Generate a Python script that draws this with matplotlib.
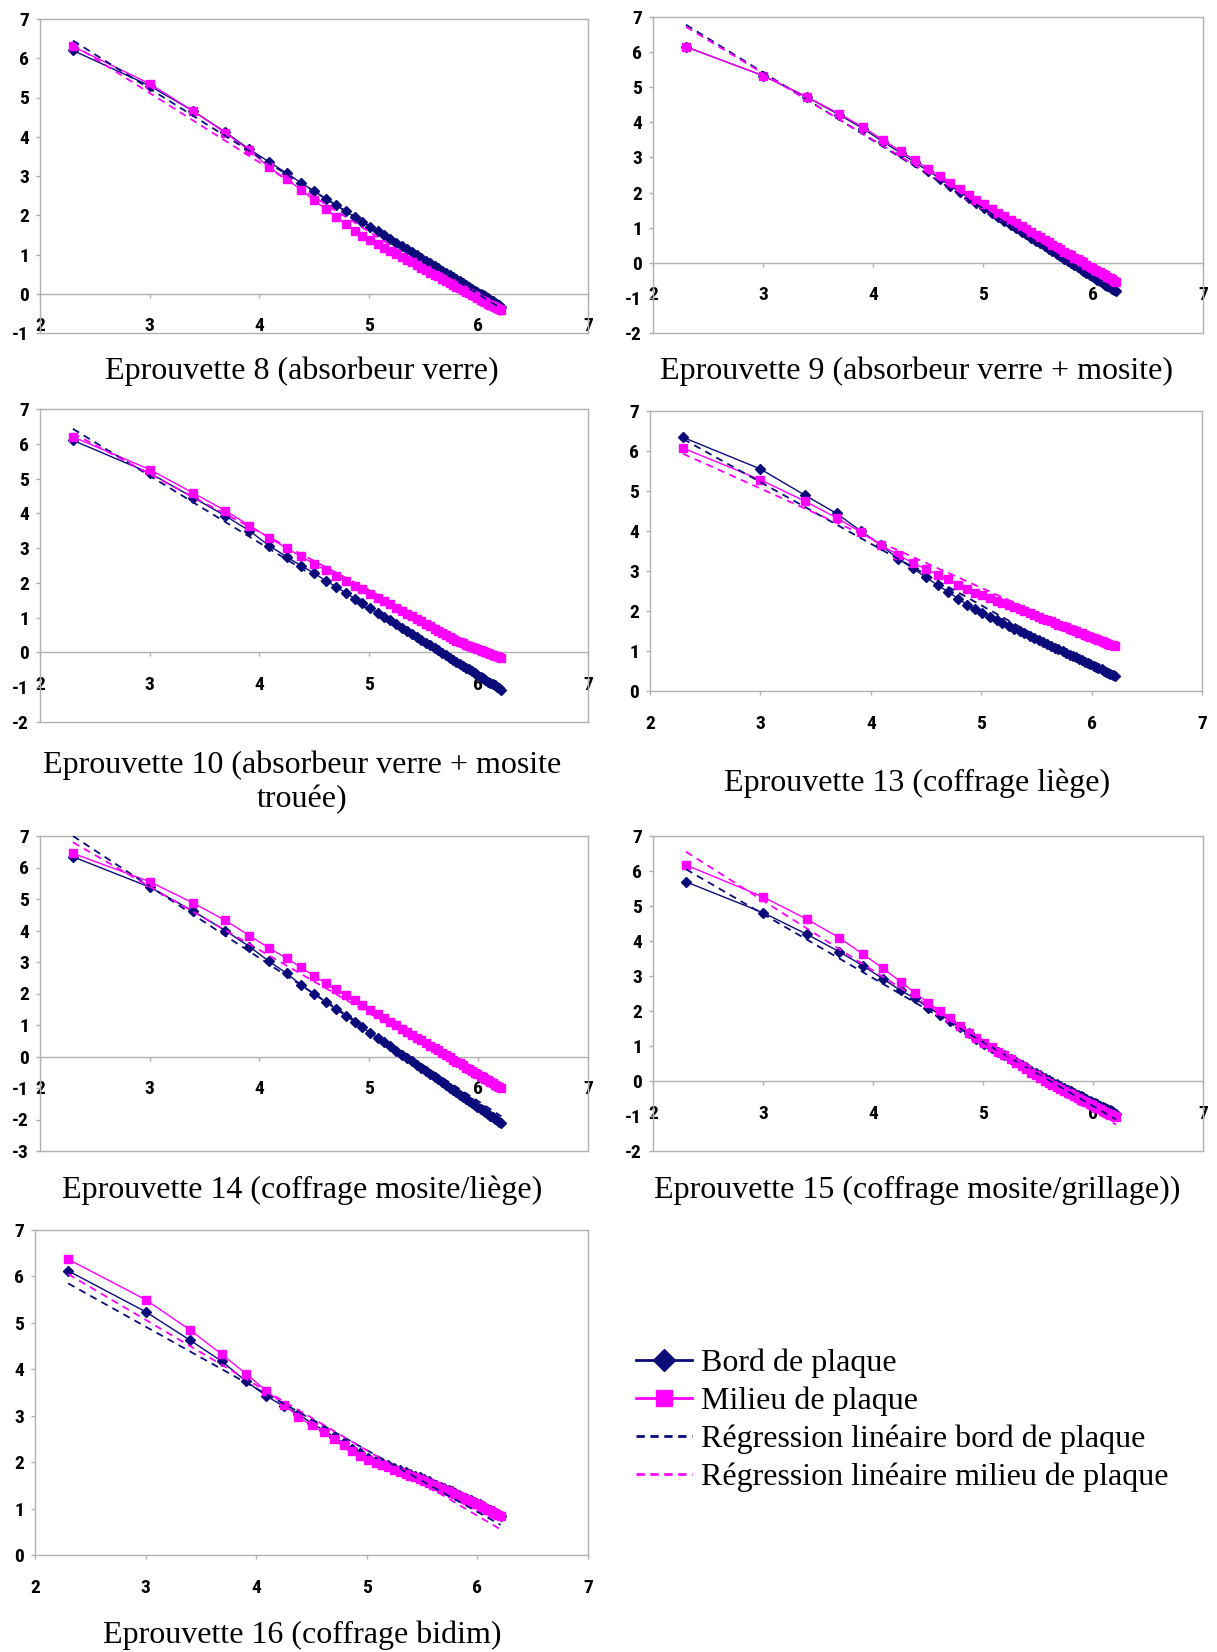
import os
import matplotlib
matplotlib.use('Agg')
import matplotlib.pyplot as plt
from matplotlib.lines import Line2D
from matplotlib import font_manager
from matplotlib.font_manager import FontProperties

plt.rcParams['axes.unicode_minus'] = False

# ---------------- data ----------------
x_vals = [2.30, 3.00, 3.40, 3.69, 3.91, 4.09, 4.25, 4.38, 4.50, 4.61, 4.70, 4.79, 4.87, 4.94, 5.01,
          5.08, 5.14, 5.19, 5.25, 5.30, 5.35, 5.39, 5.44, 5.48, 5.52, 5.56, 5.60, 5.63, 5.67, 5.70,
          5.74, 5.77, 5.80, 5.83, 5.86, 5.89, 5.91, 5.94, 5.97, 5.99, 6.02, 6.04, 6.06, 6.09, 6.11,
          6.13, 6.15, 6.17, 6.19, 6.21]
reg_x = [2.30, 6.21]

ep8_bord = [6.20, 5.30, 4.65, 4.12, 3.68, 3.36, 3.07, 2.83, 2.62, 2.42, 2.26, 2.10, 1.95, 1.83, 1.71,
            1.59, 1.49, 1.40, 1.30, 1.22, 1.13, 1.07, 0.98, 0.91, 0.84, 0.78, 0.71, 0.66, 0.59, 0.54,
            0.47, 0.42, 0.37, 0.32, 0.27, 0.22, 0.18, 0.13, 0.08, 0.05, 0.00, -0.04, -0.07, -0.12, -0.16,
            -0.19, -0.23, -0.26, -0.29, -0.33]
ep8_milieu = [6.30, 5.35, 4.65, 4.10, 3.65, 3.22, 2.92, 2.65, 2.38, 2.15, 1.96, 1.77, 1.60, 1.47, 1.37,
              1.26, 1.17, 1.10, 1.01, 0.93, 0.86, 0.80, 0.72, 0.66, 0.60, 0.54, 0.48, 0.44, 0.38, 0.33,
              0.27, 0.23, 0.18, 0.14, 0.09, 0.05, 0.02, -0.03, -0.07, -0.10, -0.15, -0.18, -0.21, -0.25, -0.28,
              -0.31, -0.34, -0.37, -0.39, -0.42]
ep8_reg_bord = [6.45, -0.38]
ep8_reg_milieu = [6.35, -0.55]

ep9_bord = [6.15, 5.33, 4.72, 4.22, 3.82, 3.45, 3.13, 2.86, 2.62, 2.40, 2.20, 2.02, 1.85, 1.70, 1.56,
            1.42, 1.30, 1.20, 1.09, 0.99, 0.89, 0.81, 0.71, 0.63, 0.55, 0.47, 0.39, 0.33, 0.25, 0.20,
            0.12, 0.06, 0.00, -0.06, -0.12, -0.18, -0.22, -0.28, -0.34, -0.38, -0.44, -0.48, -0.52, -0.58, -0.62,
            -0.66, -0.70, -0.74, -0.78, -0.81]
ep9_milieu = [6.15, 5.33, 4.72, 4.25, 3.86, 3.50, 3.18, 2.92, 2.68, 2.47, 2.28, 2.10, 1.94, 1.80, 1.67,
              1.54, 1.43, 1.34, 1.23, 1.13, 1.04, 0.97, 0.88, 0.80, 0.73, 0.65, 0.58, 0.52, 0.45, 0.39,
              0.32, 0.26, 0.21, 0.15, 0.10, 0.04, 0.01, -0.05, -0.11, -0.14, -0.20, -0.24, -0.27, -0.33, -0.36,
              -0.40, -0.44, -0.47, -0.51, -0.55]
ep9_reg_bord = [6.78, -0.80]
ep9_reg_milieu = [6.72, -0.68]

ep10_bord = [6.10, 5.16, 4.45, 3.93, 3.50, 3.07, 2.75, 2.50, 2.28, 2.06, 1.89, 1.71, 1.55, 1.42, 1.28,
             1.14, 1.03, 0.93, 0.81, 0.71, 0.61, 0.54, 0.44, 0.36, 0.28, 0.20, 0.12, 0.07, -0.01, -0.07,
             -0.15, -0.21, -0.27, -0.33, -0.39, -0.44, -0.48, -0.54, -0.60, -0.64, -0.70, -0.74, -0.78, -0.84, -0.88,
             -0.91, -0.95, -0.99, -1.03, -1.07]
ep10_milieu = [6.20, 5.26, 4.58, 4.08, 3.65, 3.30, 3.00, 2.76, 2.55, 2.36, 2.21, 2.06, 1.92, 1.81, 1.69,
               1.57, 1.47, 1.38, 1.28, 1.19, 1.11, 1.04, 0.95, 0.89, 0.82, 0.75, 0.68, 0.63, 0.56, 0.51,
               0.44, 0.39, 0.34, 0.30, 0.26, 0.22, 0.19, 0.16, 0.12, 0.10, 0.06, 0.04, 0.01, -0.02, -0.04,
               -0.07, -0.09, -0.11, -0.13, -0.15]
ep10_reg_bord = [6.43, -1.10]
ep10_reg_milieu = [6.30, -0.22]

ep13_bord = [6.34, 5.55, 4.90, 4.44, 4.00, 3.65, 3.30, 3.07, 2.84, 2.64, 2.48, 2.31, 2.16, 2.05, 1.94,
             1.85, 1.77, 1.71, 1.63, 1.56, 1.50, 1.45, 1.38, 1.33, 1.28, 1.23, 1.17, 1.13, 1.08, 1.04,
             0.99, 0.95, 0.91, 0.87, 0.84, 0.80, 0.77, 0.73, 0.69, 0.67, 0.63, 0.60, 0.58, 0.54, 0.51,
             0.48, 0.46, 0.43, 0.41, 0.38]
ep13_milieu = [6.07, 5.28, 4.75, 4.33, 3.97, 3.65, 3.40, 3.20, 3.05, 2.90, 2.79, 2.65, 2.56, 2.46, 2.40,
               2.33, 2.26, 2.21, 2.14, 2.09, 2.04, 1.99, 1.94, 1.90, 1.85, 1.81, 1.77, 1.74, 1.69, 1.66,
               1.62, 1.59, 1.55, 1.52, 1.49, 1.46, 1.44, 1.40, 1.37, 1.35, 1.32, 1.30, 1.28, 1.24, 1.22,
               1.20, 1.18, 1.16, 1.14, 1.12]
ep13_reg_bord = [6.30, 0.28]
ep13_reg_milieu = [5.93, 1.08]

ep14_bord = [6.34, 5.38, 4.61, 4.00, 3.49, 3.02, 2.64, 2.28, 1.98, 1.72, 1.50, 1.29, 1.10, 0.93, 0.76,
             0.59, 0.45, 0.33, 0.18, 0.06, -0.06, -0.15, -0.27, -0.37, -0.46, -0.56, -0.66, -0.73, -0.82, -0.90,
             -0.99, -1.06, -1.14, -1.21, -1.28, -1.35, -1.40, -1.47, -1.54, -1.59, -1.66, -1.71, -1.76, -1.83, -1.88,
             -1.93, -1.98, -2.02, -2.07, -2.12]
ep14_milieu = [6.45, 5.55, 4.87, 4.32, 3.84, 3.44, 3.12, 2.83, 2.56, 2.32, 2.13, 1.94, 1.78, 1.63, 1.49,
               1.34, 1.21, 1.11, 0.99, 0.88, 0.78, 0.69, 0.59, 0.51, 0.42, 0.34, 0.26, 0.20, 0.11, 0.05,
               -0.03, -0.10, -0.16, -0.22, -0.28, -0.35, -0.39, -0.45, -0.51, -0.55, -0.62, -0.66, -0.70, -0.76, -0.80,
               -0.84, -0.89, -0.93, -0.97, -1.01]
ep14_reg_bord = [7.00, -1.90]
ep14_reg_milieu = [6.80, -1.05]

ep15_bord = [5.69, 4.81, 4.19, 3.70, 3.29, 2.92, 2.59, 2.36, 2.10, 1.90, 1.72, 1.53, 1.36, 1.21, 1.07,
             0.95, 0.84, 0.75, 0.64, 0.55, 0.46, 0.39, 0.30, 0.23, 0.16, 0.09, 0.02, -0.03, -0.09, -0.14,
             -0.20, -0.25, -0.29, -0.34, -0.39, -0.43, -0.46, -0.51, -0.56, -0.59, -0.64, -0.67, -0.70, -0.74, -0.78,
             -0.81, -0.84, -0.87, -0.90, -0.93]
ep15_milieu = [6.17, 5.26, 4.62, 4.10, 3.62, 3.22, 2.84, 2.52, 2.24, 2.00, 1.79, 1.57, 1.38, 1.24, 1.10,
               0.96, 0.84, 0.74, 0.62, 0.52, 0.42, 0.34, 0.24, 0.16, 0.08, 0.00, -0.06, -0.11, -0.18, -0.22,
               -0.29, -0.34, -0.38, -0.43, -0.48, -0.53, -0.56, -0.61, -0.66, -0.69, -0.74, -0.77, -0.80, -0.85, -0.88,
               -0.91, -0.94, -0.98, -1.01, -1.04]
ep15_reg_bord = [6.05, -1.10]
ep15_reg_milieu = [6.55, -1.25]

ep16_bord = [6.12, 5.24, 4.63, 4.17, 3.74, 3.43, 3.20, 3.04, 2.84, 2.69, 2.55, 2.41, 2.29, 2.19, 2.10,
             2.03, 1.98, 1.93, 1.88, 1.83, 1.79, 1.75, 1.71, 1.67, 1.63, 1.59, 1.54, 1.51, 1.47, 1.44,
             1.40, 1.37, 1.33, 1.30, 1.26, 1.23, 1.21, 1.18, 1.15, 1.12, 1.09, 1.06, 1.04, 1.00, 0.98,
             0.95, 0.93, 0.90, 0.88, 0.85]
ep16_milieu = [6.37, 5.50, 4.85, 4.32, 3.90, 3.54, 3.24, 2.98, 2.79, 2.64, 2.50, 2.36, 2.24, 2.14, 2.05,
               1.99, 1.94, 1.89, 1.84, 1.79, 1.75, 1.71, 1.67, 1.64, 1.60, 1.56, 1.51, 1.48, 1.44, 1.41,
               1.37, 1.34, 1.31, 1.27, 1.24, 1.21, 1.19, 1.16, 1.13, 1.10, 1.07, 1.04, 1.02, 0.98, 0.96,
               0.93, 0.91, 0.88, 0.86, 0.83]
ep16_reg_bord = [5.85, 0.65]
ep16_reg_milieu = [6.05, 0.55]

titles = ["Eprouvette 8 (absorbeur verre)",
          "Eprouvette 9 (absorbeur verre + mosite)",
          "Eprouvette 10 (absorbeur verre + mosite\ntrouée)",
          "Eprouvette 13 (coffrage liège)",
          "Eprouvette 14 (coffrage mosite/liège)",
          "Eprouvette 15 (coffrage mosite/grillage))",
          "Eprouvette 16 (coffrage bidim)"]
y_mins = [-1, -2, -2, 0, -3, -2, 0]
x_ticks = [2, 3, 4, 5, 6, 7]
legend_labels = ["Bord de plaque", "Milieu de plaque",
                 "Régression linéaire bord de plaque", "Régression linéaire milieu de plaque"]

series = [(ep8_bord, ep8_milieu, ep8_reg_bord, ep8_reg_milieu),
          (ep9_bord, ep9_milieu, ep9_reg_bord, ep9_reg_milieu),
          (ep10_bord, ep10_milieu, ep10_reg_bord, ep10_reg_milieu),
          (ep13_bord, ep13_milieu, ep13_reg_bord, ep13_reg_milieu),
          (ep14_bord, ep14_milieu, ep14_reg_bord, ep14_reg_milieu),
          (ep15_bord, ep15_milieu, ep15_reg_bord, ep15_reg_milieu),
          (ep16_bord, ep16_milieu, ep16_reg_bord, ep16_reg_milieu)]

# ---------------- layout / style ----------------
W, H = 1217, 1652
NAVY = '#0B0B7A'
MAG = '#FF00FF'
GRAY = '#B0B0B0'

# pick a bold (preferably narrow) sans font file for the tick labels
files = {os.path.basename(f.fname): f.fname for f in font_manager.fontManager.ttflist}
tick_file = None
for cand in ['LiberationSansNarrow-Bold.ttf', 'RobotoCondensed-Bold.ttf',
             'DejaVuSansCondensed-Bold.ttf', 'LiberationSans-Bold.ttf',
             'Roboto-Bold.ttf', 'DejaVuSans-Bold.ttf']:
    if cand in files:
        tick_file = files[cand]
        break


def tick_font():
    if tick_file:
        return FontProperties(fname=tick_file, size=14)
    return FontProperties(family='DejaVu Sans', weight='bold', size=13)


serif = 'Liberation Serif'

# (left, top, right, bottom) of plot area in pixels
boxes = [(40, 19, 588, 333), (653, 17, 1203, 333),
         (40, 409, 588, 722), (650, 411, 1202, 691),
         (40, 836, 588, 1151), (653, 836, 1203, 1151),
         (35, 1230, 588, 1555)]
# title line centres (x, [y lines])
title_pos = [(302, [371]), (917, [371]), (302, [765, 800]), (917, [783]),
             (302, [1190]), (917, [1190]), (302, [1635])]

fig = plt.figure(figsize=(W / 100, H / 100), dpi=100)

for i, (box, ymin) in enumerate(zip(boxes, y_mins)):
    l, t, r, b = box
    ax = fig.add_axes([l / W, 1 - b / H, (r - l) / W, (b - t) / H])
    bord, milieu, rb, rm = series[i]
    ax.plot(x_vals, bord, color=NAVY, lw=1.0, marker='D', ms=4.8, mec=NAVY, mfc=NAVY, zorder=3)
    ax.plot(x_vals, milieu, color=MAG, lw=1.0, marker='s', ms=5.8, mec=MAG, mfc=MAG, zorder=4)
    ax.plot(reg_x, rb, color=NAVY, lw=1.3, ls=(0, (4, 3)), zorder=5)
    ax.plot(reg_x, rm, color=MAG, lw=1.3, ls=(0, (4, 3)), zorder=5)

    ax.set_xlim(2, 7)
    ax.set_ylim(ymin, 7)
    yt = list(range(ymin, 8))
    ax.set_xticks(x_ticks)
    ax.set_yticks(yt)
    for s in ['top', 'right', 'left', 'bottom']:
        ax.spines[s].set_color(GRAY)
        ax.spines[s].set_linewidth(1.0)
    ax.spines['bottom'].set_position(('data', 0))
    if ymin < 0:
        ax.plot([0, 1], [0, 0], transform=ax.transAxes, color=GRAY, lw=1.0, clip_on=False)
    ax.tick_params(axis='x', direction='out', length=3, width=1, color=GRAY, pad=14)
    ax.tick_params(axis='y', direction='out', length=3, width=1, color=GRAY, pad=5)
    ax.set_xticklabels([str(v) for v in x_ticks])
    ax.set_yticklabels([str(v) for v in yt])
    for lab in ax.get_xticklabels() + ax.get_yticklabels():
        lab.set_fontproperties(tick_font())
    ax.set_facecolor('white')

    tx, tys = title_pos[i]
    for line, ty in zip(titles[i].split('\n'), tys):
        fig.text(tx / W, 1 - ty / H, line, ha='center', va='center',
                 fontsize=23, family=serif)

handles = [Line2D([], [], color=NAVY, lw=2, marker='D', ms=11),
           Line2D([], [], color=MAG, lw=2, marker='s', ms=11),
           Line2D([], [], color=NAVY, lw=2, ls=(0, (3, 2))),
           Line2D([], [], color=MAG, lw=2, ls=(0, (3, 2)))]
fig.legend(handles, legend_labels, loc='upper left', bbox_to_anchor=(636 / W, 1 - 1349 / H),
           frameon=False, prop={'family': serif, 'size': 23}, handlelength=1.75,
           handletextpad=0.3, labelspacing=0.26, borderpad=0, borderaxespad=0)

fig.savefig('out.png', dpi=100, facecolor='white')
